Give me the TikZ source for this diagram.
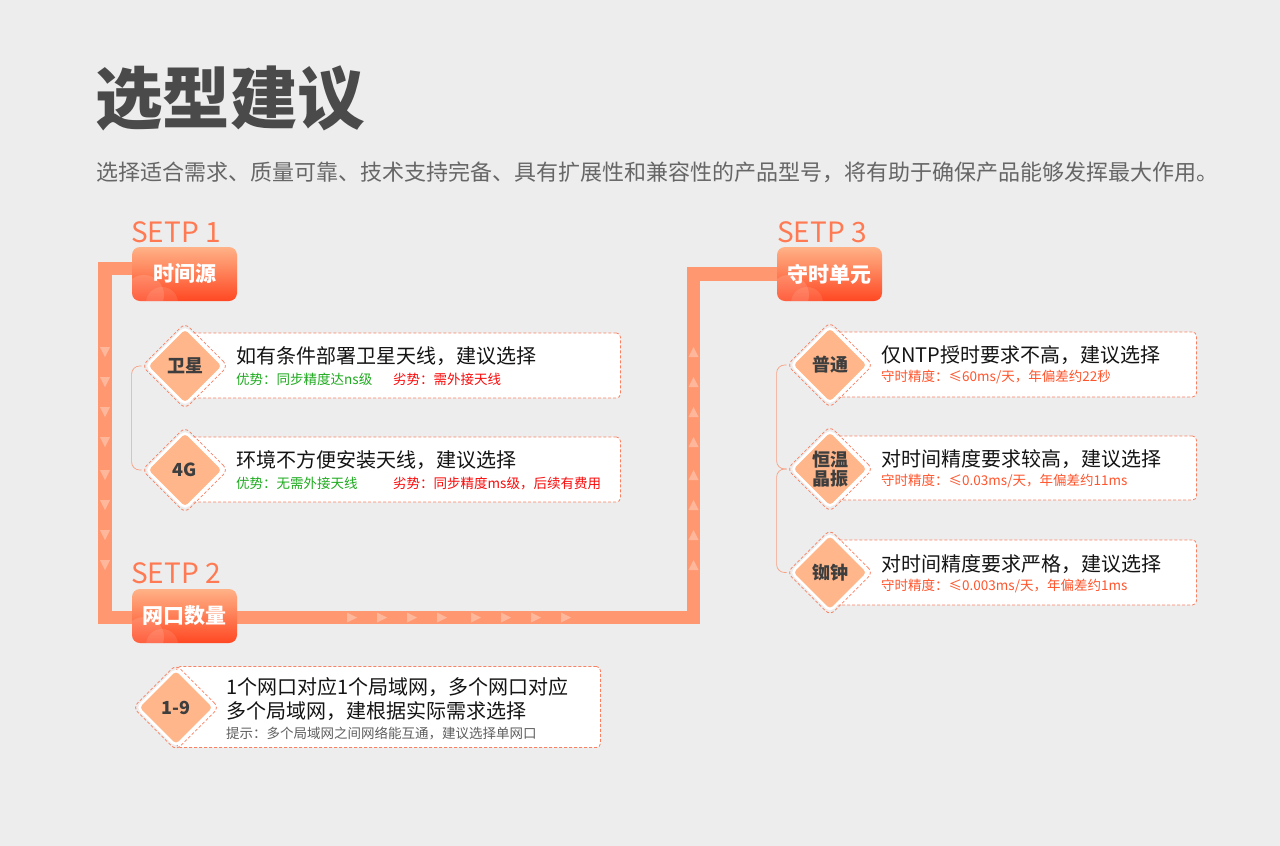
\documentclass[tikz,border=0pt]{standalone}
\usepackage{fontspec}
\setmainfont{Noto Sans CJK SC}
\usetikzlibrary{shapes.geometric,positioning}
\definecolor{paper}{RGB}{237,237,237}
\definecolor{bandcol}{RGB}{255,152,112}
\definecolor{setpcol}{RGB}{255,122,82}
\definecolor{dashcol}{RGB}{250,128,98}
\definecolor{twigcol}{RGB}{248,160,130}
\definecolor{peach}{RGB}{255,182,138}
\definecolor{titlecol}{RGB}{74,74,74}
\definecolor{introcol}{RGB}{102,102,102}
\definecolor{inkcol}{RGB}{20,20,20}
\definecolor{gemink}{RGB}{62,62,62}
\definecolor{goodcol}{RGB}{30,170,30}
\definecolor{badcol}{RGB}{250,10,10}
\definecolor{keepcol}{RGB}{255,85,45}
\definecolor{hintcol}{RGB}{95,95,95}
\pgfdeclarelayer{ground}
\pgfdeclarelayer{track}
\pgfsetlayers{ground,track,main}

\begin{document}
\begin{tikzpicture}[x=1pt,y=-1pt,
	head/.style={rectangle, rounded corners=8pt, minimum width=105pt, minimum height=54pt, inner sep=0pt,
		top color={rgb,255:red,255;green,178;blue,135}, bottom color={rgb,255:red,255;green,72;blue,35},
		text=white, font=\fontsize{21}{21}\selectfont\bfseries,
		path picture={\fill[white, fill opacity=0.13] ([xshift=12pt,yshift=6pt]path picture bounding box.south west) circle (20pt);
			\fill[white, fill opacity=0.10] ([xshift=30pt,yshift=-2pt]path picture bounding box.south west) circle (16pt);}},
	setp/.style={anchor=base west, inner sep=0pt, text=setpcol, font=\fontsize{28}{28}\selectfont},
	band/.style={draw=bandcol, line width=13.5pt, line join=miter},
	tick/.style={fill=white, fill opacity=0.3},
	card/.style={rectangle, rounded corners=4pt, fill=white, draw=dashcol, dash pattern=on 3pt off 2pt, line width=0.8pt, anchor=west},
	ring/.style={diamond, aspect=1, minimum size=86pt, inner sep=0pt, draw=dashcol, dash pattern=on 3pt off 2pt, line width=0.8pt, rounded corners=6pt},
	gem/.style={diamond, aspect=1, minimum size=78pt, inner sep=0pt, fill=peach, draw=white, line width=2.5pt, rounded corners=5pt,
		text=gemink, font=\fontsize{18}{19}\selectfont\bfseries, align=center},
	twig/.style={draw=twigcol, line width=0.7pt, rounded corners=8pt},
	lead/.style={anchor=west, inner sep=0pt, text=inkcol, font=\fontsize{20}{20}\selectfont},
	note/.style={anchor=west, inner sep=0pt, font=\fontsize{13.5}{13.5}\selectfont}]

\begin{pgfonlayer}{ground}
	\fill[paper] (0,0) rectangle (1280,846);
\end{pgfonlayer}
\useasboundingbox (0,0) rectangle (1280,846);

\node[anchor=west, inner sep=0pt, text=titlecol, font=\fontsize{67.5}{67.5}\selectfont\bfseries] (title) at (95,98) {选型建议};
\node[anchor=west, inner sep=0pt, text=introcol, font=\fontsize{22}{22}\selectfont] (intro) at (96,172)
	{选择适合需求、质量可靠、技术支持完备、具有扩展性和兼容性的产品型号，将有助于确保产品能够发挥最大作用。};

\node[setp] (s1) at (131,242) {SETP 1};
\node[setp] (s2) at (131,583.5) {SETP 2};
\node[setp] (s3) at (777,242) {SETP 3};

\node[head] (src) at (184.5,274) {时间源};
\node[head] (port) at (184.5,616) {网口数量};
\node[head] (hold) at (829.5,274) {守时单元};

\coordinate (k1) at (105,268.5);
\coordinate (k2) at (105,617.5);
\coordinate (k3) at (693.5,617.5);
\coordinate (k4) at (693.5,274);

\begin{pgfonlayer}{track}
	\draw[band] ([yshift=5.5pt]src.center) -- (k1) -- (k2) -- (k3) -- (k4) -- (hold.center);
	\foreach \y in {352,382,412,442,475,505,535,565} {
		\fill[tick] (100,\y-5) -- (110,\y-5) -- (105,\y+5) -- cycle;
		\fill[tick] (688.5,\y+5) -- (698.5,\y+5) -- (693.5,\y-5) -- cycle;
	}
	\foreach \x in {352,382,412,442,476,506,536,566}
		\fill[tick] (\x-5,612.5) -- (\x-5,622.5) -- (\x+5,617.5) -- cycle;
\end{pgfonlayer}

\node[card, minimum width=435pt, minimum height=65pt] (c1) at (185,365.5) {};
\node[card, minimum width=435pt, minimum height=65pt] (c2) at (185,469.5) {};
\node[card, minimum width=424pt, minimum height=81pt] (c3) at (176,707) {};
\node[card, minimum width=366pt, minimum height=65pt] (c4) at (830,364.5) {};
\node[card, minimum width=366pt, minimum height=64pt] (c5) at (830,468) {};
\node[card, minimum width=366pt, minimum height=65pt] (c6) at (830,572.5) {};

\node[ring] (r1) at (185,366) {};
\node[ring] (r2) at (185,470) {};
\node[ring] (r3) at (176,707.5) {};
\node[ring] (r4) at (830,365) {};
\node[ring] (r5) at (830,469) {};
\node[ring] (r6) at (830,572.5) {};

\draw[twig] (r1.west) -| ([xshift=-10pt]r2.west) -- (r2.west);
\draw[twig] (r4.west) -| ([xshift=-10pt]r5.west) -- (r5.west);
\draw[twig] (r5.west) -| ([xshift=-10pt]r6.west) -- (r6.west);

\node[gem] (g1) at (r1) {卫星};
\node[gem] (g2) at (r2) {4G};
\node[gem] (g3) at (r3) {1-9};
\node[gem] (g4) at (r4) {普通};
\node[gem] (g5) at (r5) {恒温\\晶振};
\node[gem] (g6) at (r6) {铷钟};

\node[lead] (t1) at (236,356.5) {如有条件部署卫星天线，建议选择};
\node[note, text=goodcol] (p1) at (236,379.5) {优势：同步精度达ns级};
\node[note, text=badcol] (m1) at (393,379.5) {劣势：需外接天线};

\node[lead] (t2) at (236,460.5) {环境不方便安装天线，建议选择};
\node[note, text=goodcol] (p2) at (236,483.5) {优势：无需外接天线};
\node[note, text=badcol] (m2) at (393,483.5) {劣势：同步精度ms级，后续有费用};

\node[lead] (t3) at (226,687) {1个网口对应1个局域网，多个网口对应};
\node[lead] (t3b) at (226,711.5) {多个局域网，建根据实际需求选择};
\node[note, text=hintcol] (h3) at (226,733.5) {提示：多个局域网之间网络能互通，建议选择单网口};

\node[lead] (t4) at (881,355.5) {仅NTP授时要求不高，建议选择};
\node[note, text=keepcol] (k4t) at (881,377) {守时精度：≤60ms/天，年偏差约22秒};

\node[lead] (t5) at (881,459.5) {对时间精度要求较高，建议选择};
\node[note, text=keepcol] (k5t) at (881,481) {守时精度：≤0.03ms/天，年偏差约11ms};

\node[lead] (t6) at (881,564) {对时间精度要求严格，建议选择};
\node[note, text=keepcol] (k6t) at (881,585.5) {守时精度：≤0.003ms/天，年偏差约1ms};
\end{tikzpicture}
\end{document}
